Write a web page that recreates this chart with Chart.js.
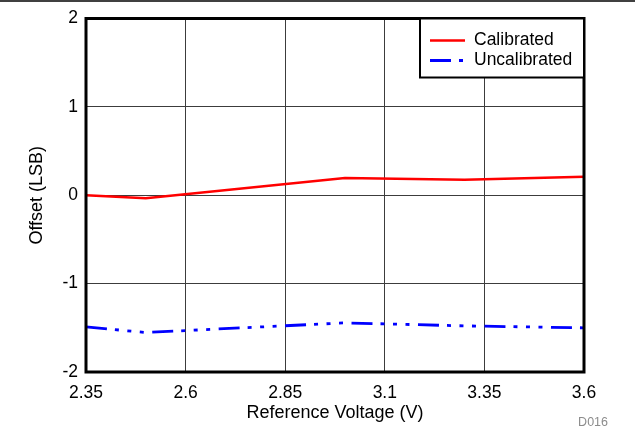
<!DOCTYPE html>
<html>
<head>
<meta charset="utf-8">
<script src="https://cdn.jsdelivr.net/npm/chart.js@4.4.1/dist/chart.umd.min.js"></script>
<style>
  html, body { margin: 0; padding: 0; background: #fff; overflow: hidden; }
  canvas { display: block; }
</style>
</head>
<body>
<canvas id="offsetChart" width="635" height="429"></canvas>
<script>
// values
var voltage = [2.35, 2.5, 3.0, 3.3, 3.6];
var calibrated = [0.0, -0.035, 0.194, 0.175, 0.208];
var uncalibrated = [-1.49, -1.553, -1.444, -1.478, -1.50];
var xTicks = [2.35, 2.6, 2.85, 3.1, 3.35, 3.6];
var yTicks = [-2, -1, 0, 1, 2];

var FONT = "'Liberation Sans', Arial, sans-serif";
var gridColor = '#3c3c3c';

function toPoints(xs, ys) {
  return xs.map(function (x, i) { return { x: x, y: ys[i] }; });
}

// frame, legend box, top rule and figure id
var decorations = {
  id: 'decorations',
  afterDraw: function (chart) {
    var ctx = chart.ctx;
    var a = chart.chartArea;
    ctx.save();

    // thin rule across the top of the page
    ctx.strokeStyle = '#000';
    ctx.lineWidth = 1.5;
    ctx.beginPath();
    ctx.moveTo(0, 1);
    ctx.lineTo(chart.width, 1);
    ctx.stroke();

    // heavy plot frame
    ctx.lineWidth = 3;
    ctx.strokeRect(a.left, a.top, a.right - a.left, a.bottom - a.top);

    // legend
    var bx = 420, by = a.top, bw = a.right - 420, bh = 59;
    ctx.fillStyle = '#fff';
    ctx.fillRect(bx, by, bw, bh);
    ctx.lineWidth = 2;
    ctx.strokeRect(bx, by, bw, bh);

    ctx.font = '17.5px ' + FONT;
    ctx.textBaseline = 'middle';
    chart.data.datasets.forEach(function (ds, i) {
      var ly = by + 22 + i * 20;
      ctx.strokeStyle = ds.borderColor;
      ctx.lineWidth = ds.borderWidth;
      ctx.setLineDash(ds.borderDash || []);
      ctx.beginPath();
      ctx.moveTo(bx + 10, ly);
      ctx.lineTo(bx + 45, ly);
      ctx.stroke();
      ctx.setLineDash([]);
      ctx.fillStyle = '#000';
      ctx.fillText(ds.label, bx + 54, ly);
    });

    // figure id
    ctx.font = '12.5px ' + FONT;
    ctx.fillStyle = '#8c8c8c';
    ctx.textAlign = 'right';
    ctx.fillText('D016', 608, 423);
    ctx.restore();
  }
};

var offsetChart = new Chart(document.getElementById('offsetChart'), {
  type: 'line',
  data: {
    datasets: [{
      label: 'Calibrated',
      data: toPoints(voltage, calibrated),
      borderColor: '#ff0000',
      borderWidth: 2.5,
      pointRadius: 0,
      fill: false
    }, {
      label: 'Uncalibrated',
      data: toPoints(voltage, uncalibrated),
      borderColor: '#0000ff',
      borderWidth: 2.8,
      borderDash: [21, 8, 4, 8.5, 4, 8.5, 4, 8.5],
      pointRadius: 0,
      fill: false
    }]
  },
  options: {
    responsive: false,
    animation: false,
    devicePixelRatio: 1,
    layout: { padding: { top: 17, right: 51, left: 0, bottom: 0 } },
    plugins: {
      legend: { display: false },
      tooltip: { enabled: false }
    },
    scales: {
      x: {
        type: 'linear',
        min: 2.35,
        max: 3.6,
        afterBuildTicks: function (scale) {
          scale.ticks = xTicks.map(function (v) { return { value: v }; });
        },
        afterFit: function (scale) { scale.height = 57; },
        grid: { color: gridColor, lineWidth: 1, drawTicks: false },
        border: { display: false },
        ticks: {
          color: '#000',
          padding: 10.5,
          autoSkip: false,
          maxRotation: 0,
          font: { family: FONT, size: 17.5 },
          callback: function (v) { return String(Number(v.toFixed(2))); }
        },
        title: {
          display: true,
          text: 'Reference Voltage (V)',
          color: '#000',
          font: { family: FONT, size: 18 },
          padding: { top: 0, bottom: 5 }
        }
      },
      y: {
        min: -2,
        max: 2,
        afterBuildTicks: function (scale) {
          scale.ticks = yTicks.map(function (v) { return { value: v }; });
        },
        afterFit: function (scale) { scale.width = 86; },
        grid: { color: gridColor, lineWidth: 1, drawTicks: false },
        border: { display: false },
        ticks: {
          color: '#000',
          padding: 8,
          autoSkip: false,
          font: { family: FONT, size: 17.5 }
        },
        title: {
          display: true,
          text: 'Offset (LSB)',
          color: '#000',
          font: { family: FONT, size: 18 },
          padding: { top: 26, bottom: 0 }
        }
      }
    }
  },
  plugins: [decorations]
});
</script>
</body>
</html>
